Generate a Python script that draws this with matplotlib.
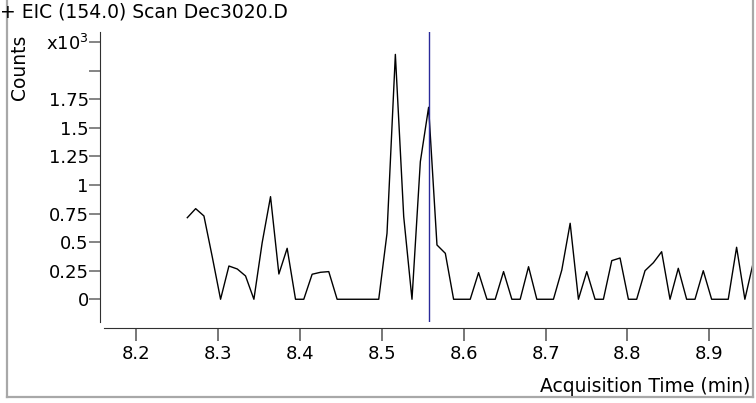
import numpy as np
import matplotlib.pyplot as plt
from matplotlib.lines import Line2D

# Acquisition times (min) and counts (x10^3)
times = [8.2626, 8.2728, 8.2829, 8.2931, 8.3032, 8.3134, 8.3236, 8.3337, 8.3439, 8.3540,
         8.3642, 8.3744, 8.3845, 8.3947, 8.4048, 8.4150, 8.4252, 8.4353, 8.4455, 8.4556,
         8.4658, 8.4760, 8.4861, 8.4963, 8.5064, 8.5166, 8.5268, 8.5369, 8.5471, 8.5572,
         8.5674, 8.5776, 8.5877, 8.5979, 8.6080, 8.6182, 8.6284, 8.6385, 8.6487, 8.6588,
         8.6690, 8.6792, 8.6893, 8.6995, 8.7096, 8.7198, 8.7300, 8.7401, 8.7503, 8.7604,
         8.7706, 8.7808, 8.7909, 8.8011, 8.8112, 8.8214, 8.8316, 8.8417, 8.8519, 8.8620,
         8.8722, 8.8824, 8.8925, 8.9027, 8.9128, 8.9230, 8.9332, 8.9433, 8.9535]
counts = [0.714, 0.793, 0.729, 0.37, 0.0, 0.291, 0.265, 0.204, 0.0, 0.495,
          0.898, 0.221, 0.446, 0.0, 0.0, 0.219, 0.236, 0.242, 0.0, 0.0,
          0.0, 0.0, 0.0, 0.0, 0.577, 2.143, 0.723, 0.0, 1.204, 1.68,
          0.475, 0.402, 0.0, 0.0, 0.0, 0.233, 0.0, 0.0, 0.242, 0.0,
          0.0, 0.285, 0.0, 0.0, 0.0, 0.256, 0.665, 0.0, 0.242, 0.0,
          0.0, 0.338, 0.361, 0.0, 0.0, 0.250, 0.320, 0.416, 0.0, 0.271,
          0.0, 0.0, 0.250, 0.0, 0.0, 0.0, 0.455, 0.0, 0.320]

marker_time = 8.558

x_ticks = [8.2, 8.3, 8.4, 8.5, 8.6, 8.7, 8.8, 8.9]
y_ticks = [0, 0.25, 0.5, 0.75, 1, 1.25, 1.5, 1.75, 2.0, 2.25]
y_tick_labels = ['0', '0.25', '0.5', '0.75', '1', '1.25', '1.5', '1.75', '', 'x10$^3$']

W, H = 756, 403
fig = plt.figure(figsize=(W / 100, H / 100), dpi=100)

# axes box in pixels: x 104..752, y 32..322 (from top)
ax = fig.add_axes([104 / W, 1 - 322 / H, (752 - 104) / W, (322 - 32) / H])

ax.plot(times, counts, color='black', lw=1.0)
ax.axvline(marker_time, color='#2a2a9a', lw=1.0)

ax.set_xlim(8.1609, 8.952)
ax.set_ylim(-0.199, 2.339)

ax.set_xticks(x_ticks)
ax.set_xticklabels([str(v) for v in x_ticks])
ax.set_yticks(y_ticks)
ax.set_yticklabels(y_tick_labels)

for s in ['top', 'right']:
    ax.spines[s].set_visible(False)
ax.spines['left'].set_position(('outward', 3))
ax.spines['bottom'].set_position(('outward', 4))
ax.spines['left'].set_color('#303030')
ax.spines['bottom'].set_color('#303030')

ax.tick_params(axis='y', length=8, width=1.2, color='#707070', labelsize=13, pad=0)
ax.tick_params(axis='x', length=9.5, width=1.2, color='#606060', labelsize=13, pad=3)

fig.text(0, 1 - 12 / H, '+ EIC (154.0) Scan Dec3020.D', fontsize=13.5, ha='left', va='center')
fig.text(20 / W, 1 - 67 / H, 'Counts', fontsize=13.5, rotation=90, ha='center', va='center')
fig.text(750 / W, 1 - 386 / H, 'Acquisition Time (min)', fontsize=13.5, ha='right', va='center')

# gray frame around the chart
frame = dict(color='#a8a8a8', lw=1.6, transform=fig.transFigure)
fig.add_artist(Line2D([6.5 / W, 6.5 / W], [1 - 397 / H, 1], **frame))
fig.add_artist(Line2D([752.5 / W, 752.5 / W], [1 - 397 / H, 1], **frame))
fig.add_artist(Line2D([6.5 / W, 752.5 / W], [1 - 397 / H, 1 - 397 / H], **frame))

fig.savefig('out.png', dpi=100)
